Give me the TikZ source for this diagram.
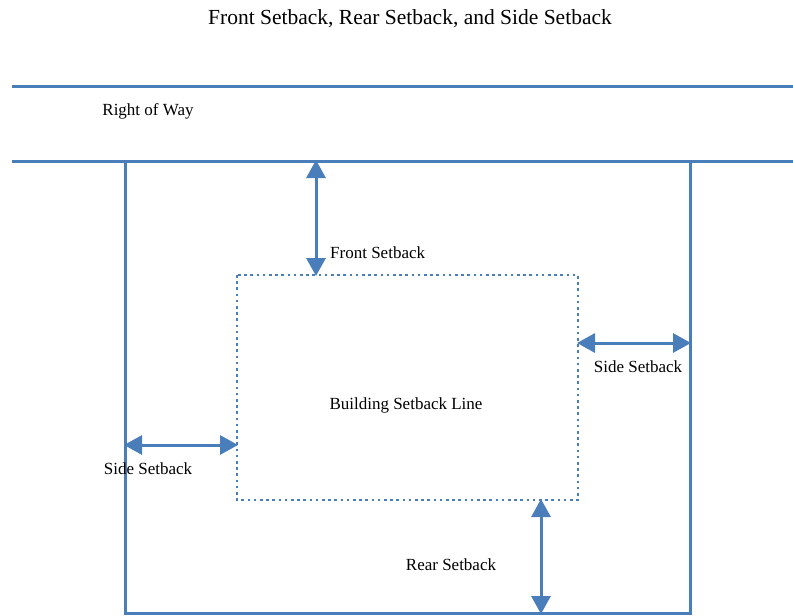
\documentclass[tikz,border=0pt]{standalone}
\usepackage{fontspec}
\setmainfont{Liberation Serif}
\usetikzlibrary{arrows.meta}
\definecolor{lineblue}{HTML}{4A7EBB}
\begin{document}
\begin{tikzpicture}[x=1pt,y=-1pt,
  bline/.style={draw=lineblue,line width=3pt},
  dimarrow/.style={draw=lineblue,line width=3pt,{Triangle[length=18pt,width=19pt]}-{Triangle[length=18pt,width=19pt]},shorten <=-1pt,shorten >=-1pt},
  lbl/.style={font=\fontsize{17}{20}\selectfont,inner sep=0pt},
  dotbox/.style={draw=lineblue,line width=2.6pt,dash pattern=on 2.6pt off 3.6pt}]
\useasboundingbox (0,0) rectangle (793,616);
\node[font=\fontsize{21.5}{25}\selectfont,inner sep=0pt] (title) at (410,19) {Front Setback, Rear Setback, and Side Setback};
% right of way lines
\coordinate (r1a) at (12,86); \coordinate (r1b) at (793,86);
\coordinate (r2a) at (12,161); \coordinate (r2b) at (793,161);
\draw[bline] (r1a) -- (r1b);
\draw[bline] (r2a) -- (r2b);
\node[lbl] (row) at (148,111) {Right of Way};
% lot
\coordinate (lotTL) at (125,161); \coordinate (lotTR) at (690,161);
\coordinate (lotBL) at (125,613); \coordinate (lotBR) at (690,613);
\draw[bline] (lotTL) -- (lotBL) -- (lotBR) -- (lotTR);
% building setback box
\coordinate (bTL) at (237,275); \coordinate (bBR) at (578,500);
\draw[dotbox] (bTL) rectangle (bBR);
\node[lbl] (bsl) at (406,405) {Building Setback Line};
% arrows
\coordinate (fa) at (316,161); \coordinate (fb) at (316,275);
\draw[dimarrow] (fa) -- (fb);
\node[lbl,anchor=west] (front) at (330,253) {Front Setback};
\coordinate (sa) at (578,343); \coordinate (sb) at (690,343);
\draw[dimarrow] (sa) -- (sb);
\node[lbl] (sider) at (638,367) {Side Setback};
\coordinate (la) at (125,445); \coordinate (lb) at (237,445);
\draw[dimarrow] (la) -- (lb);
\node[lbl] (sidel) at (148,469) {Side Setback};
\coordinate (ra) at (541,500); \coordinate (rb) at (541,613);
\draw[dimarrow] (ra) -- (rb);
\node[lbl] (rear) at (451,565) {Rear Setback};
\end{tikzpicture}
\end{document}
